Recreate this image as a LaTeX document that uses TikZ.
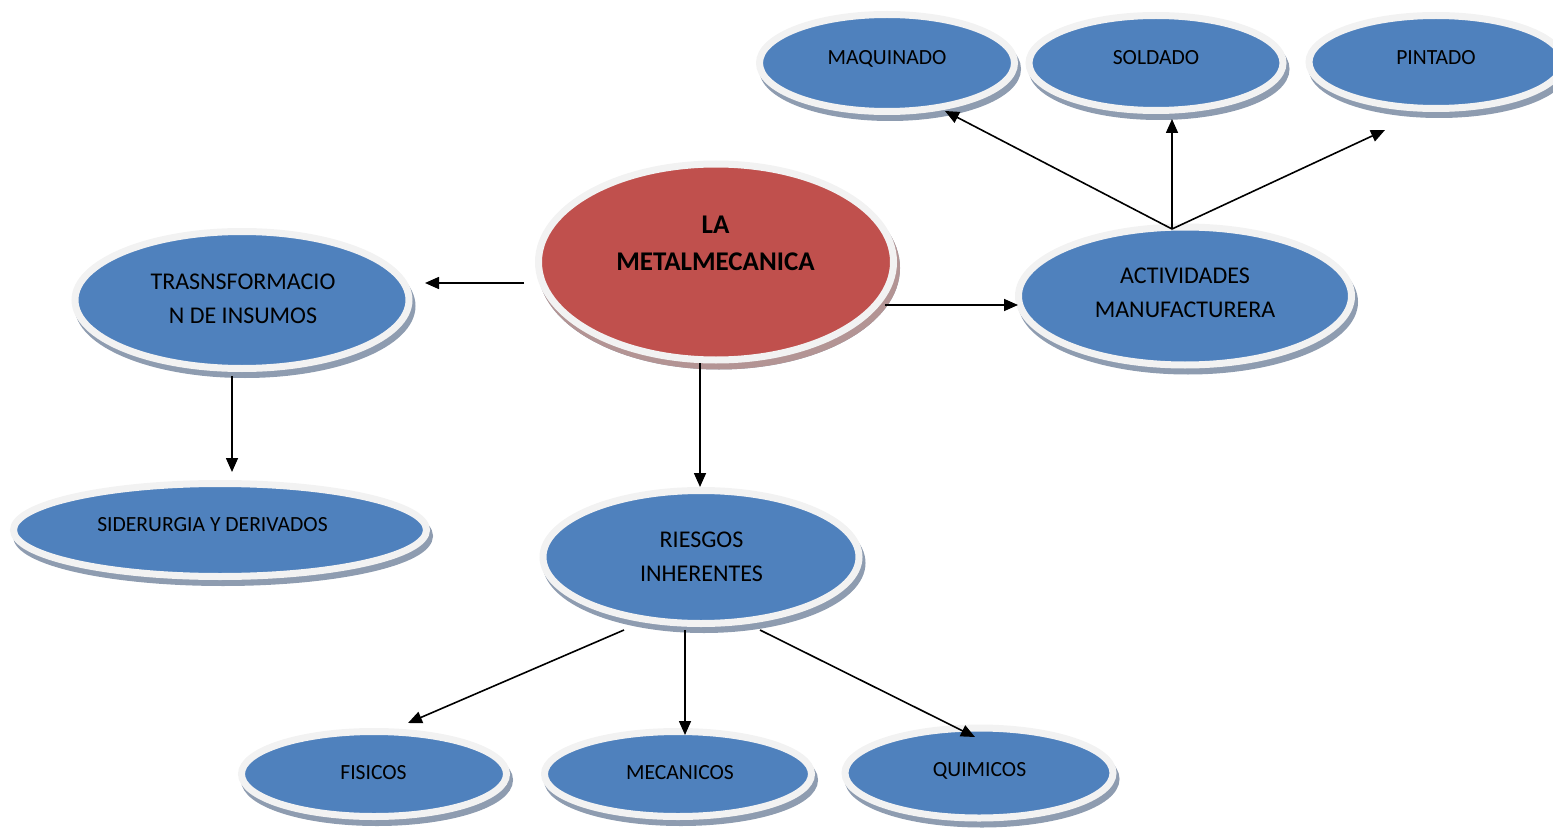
\documentclass[tikz,border=0pt]{standalone}
\usepackage{fontspec}
\setmainfont{Carlito}
\usetikzlibrary{shapes.geometric,arrows.meta,shadows}
\definecolor{bubblue}{HTML}{4F81BD}
\definecolor{bubred}{HTML}{C0504D}
\definecolor{ringc}{HTML}{F2F2F2}
\definecolor{shadb}{HTML}{8E9CB0}
\definecolor{shadr}{HTML}{B39494}
\begin{document}
\begin{tikzpicture}[x=0.5pt,y=-0.5pt,
  bub/.style={ellipse, draw=ringc, line width=3.5pt, fill=bubblue, inner sep=0pt,
    drop shadow={shadow xshift=1.5pt, shadow yshift=-3pt, fill=shadb, draw=shadb, line width=3.5pt, opacity=1}},
  redbub/.style={bub, fill=bubred,
    drop shadow={shadow xshift=1.5pt, shadow yshift=-3pt, fill=shadr, draw=shadr, line width=3.5pt, opacity=1}},
  txt/.style={inner sep=0pt, align=center, font=\fontsize{12}{17}\selectfont},
  stxt/.style={inner sep=0pt, align=center, font=\fontsize{10.8}{15}\selectfont},
  ttl/.style={inner sep=0pt, align=center, font=\fontsize{13.5}{18.5}\selectfont\bfseries},
  arr/.style={-{Triangle[length=7pt,width=6pt]}, line width=0.8pt}]
\useasboundingbox (0,0) rectangle (1553,829);

% bubbles
\node[bub, minimum width=127.5pt, minimum height=48.5pt] (maq) at (887,63) {};
\node[bub, minimum width=127pt, minimum height=47.5pt] (sol) at (1156,63) {};
\node[bub, minimum width=127pt, minimum height=46.5pt] (pin) at (1436,62) {};
\node[redbub, minimum width=177.5pt, minimum height=98pt] (la) at (716,262) {};
\node[bub, minimum width=167pt, minimum height=68.5pt] (tra) at (242,300) {};
\node[bub, minimum width=166.5pt, minimum height=69pt] (act) at (1185,296) {};
\node[bub, minimum width=206.5pt, minimum height=46.5pt] (sid) at (220,530) {};
\node[bub, minimum width=158pt, minimum height=66.5pt] (rie) at (701,557) {};
\node[bub, minimum width=132.5pt, minimum height=42.5pt] (fis) at (374,774) {};
\node[bub, minimum width=133.5pt, minimum height=42.5pt] (mec) at (678,774) {};
\node[bub, minimum width=134pt, minimum height=45pt] (qui) at (979,773) {};

% texts
\node[stxt] (maqt) at (887,58.5) {MAQUINADO};
\node[stxt] (solt) at (1156,57.5) {SOLDADO};
\node[stxt] (pint) at (1436,57.5) {PINTADO};
\node[ttl] (lat) at (715.5,243) {LA\\METALMECANICA};
\node[txt] (trat) at (243,298.5) {TRASNSFORMACIO\\N DE INSUMOS};
\node[txt] (actt) at (1185,292.5) {ACTIVIDADES\\MANUFACTURERA};
\node[stxt] (sidt) at (212.5,524.5) {SIDERURGIA Y DERIVADOS};
\node[txt] (riet) at (701.5,557) {RIESGOS\\INHERENTES};
\node[stxt] (fist) at (373.5,772.5) {FISICOS};
\node[stxt] (mect) at (680,772.5) {MECANICOS};
\node[stxt] (quit) at (979.5,771) {QUIMICOS};

% connector end points
\coordinate (la-w) at (524,283);
\coordinate (tra-e) at (425,283);
\coordinate (la-e) at (885,305);
\coordinate (act-w) at (1018,305);
\coordinate (la-s) at (700,363);
\coordinate (rie-n) at (700,487);
\coordinate (tra-s) at (232,376);
\coordinate (sid-n) at (232,472);
\coordinate (act-n) at (1172,229);
\coordinate (maq-s) at (945,111);
\coordinate (sol-s) at (1172,119);
\coordinate (pin-s) at (1385,130);
\coordinate (rie-sw) at (624,630);
\coordinate (fis-n) at (408,723);
\coordinate (rie-s) at (685,630);
\coordinate (mec-n) at (685,735);
\coordinate (rie-se) at (760,630);
\coordinate (qui-n) at (975,737);

% connectors
\draw[arr] (la-w) -- (tra-e);
\draw[arr] (la-e) -- (act-w);
\draw[arr] (la-s) -- (rie-n);
\draw[arr] (tra-s) -- (sid-n);
\draw[arr] (act-n) -- (maq-s);
\draw[arr] (act-n) -- (sol-s);
\draw[arr] (act-n) -- (pin-s);
\draw[arr] (rie-sw) -- (fis-n);
\draw[arr] (rie-s) -- (mec-n);
\draw[arr] (rie-se) -- (qui-n);
\end{tikzpicture}
\end{document}
